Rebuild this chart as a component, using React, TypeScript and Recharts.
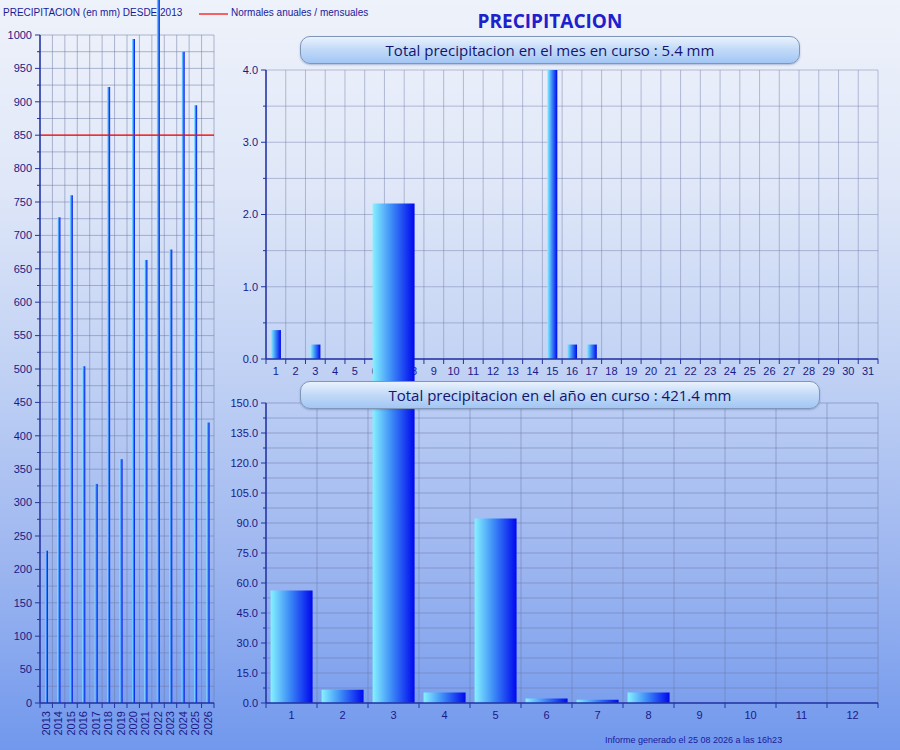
import { Bar, BarChart, CartesianGrid, ReferenceLine, XAxis, YAxis } from "recharts";

const YEARS = ["2013", "2014", "2015", "2016", "2017", "2018", "2019", "2020", "2021", "2022", "2023", "2024", "2025", "2026"];
const YEAR_TOTALS = [228, 727, 760, 504, 328, 922, 365, 994, 663, 1080, 679, 975, 895, 420];
const NORMAL_ANNUAL = 850;
const YEAR_TICKS = Array.from({ length: 41 }, (_, i) => i * 25);

const DAYS = ["1", "2", "3", "4", "5", "6", "7", "8", "9", "10", "11", "12", "13", "14", "15", "16",
  "17", "18", "19", "20", "21", "22", "23", "24", "25", "26", "27", "28", "29", "30", "31"];
const DAY_RAIN = [0.4, 0, 0.2, 0, 0, 0, 0, 0, 0, 0, 0, 0, 0, 0, 4.4, 0.2, 0.2, 0, 0, 0, 0, 0, 0, 0, 0, 0, 0, 0, 0, 0, 0];
const DAY_TICKS = [0, 0.5, 1, 1.5, 2, 2.5, 3, 3.5, 4];

const MONTHS = ["1", "2", "3", "4", "5", "6", "7", "8", "9", "10", "11", "12"];
const MONTH_RAIN = [56.3, 6.6, 249.8, 5.2, 92.3, 2.2, 1.6, 5.3, 0, 0, 0, 0];
const MONTH_TICKS = Array.from({ length: 21 }, (_, i) => i * 7.5);

const SANS = '"Liberation Sans", Arial, sans-serif';
const TITLE_FONT = '"Comic Sans MS", "Open Sans", sans-serif';
const AXIS = "#2233a6";
const LABEL = "#1a1a86";
const GRID = "#6e7aa6";

const yearData = YEARS.map((year, i) => ({ year, mm: YEAR_TOTALS[i] }));
const dayData = DAYS.map((day, i) => ({ day, mm: DAY_RAIN[i] }));
const monthData = MONTHS.map((month, i) => ({ month, mm: MONTH_RAIN[i] }));

// vertical grid lines on the category boundaries instead of the centres
const boundaries = (n: number) => ({ offset }: any) =>
  Array.from({ length: n + 1 }, (_, i) => offset.left + (i * offset.width) / n);

// y tick: long mark + label on multiples of `step`, short mark otherwise
function YTick(props: any) {
  const { x, y, payload, step, digits } = props;
  const axisX = x + 8;
  const v = payload.value as number;
  const major = Math.abs(v / step - Math.round(v / step)) < 1e-6;
  return (
    <g>
      <line x1={axisX - (major ? 5 : 3)} x2={axisX} y1={y} y2={y} stroke={AXIS} />
      {major && (
        <text x={x} y={y} dy="0.35em" textAnchor="end" fill={LABEL} fontSize={11} fontFamily={SANS}>
          {v.toFixed(digits)}
        </text>
      )}
    </g>
  );
}

// x tick: marks at category boundaries, label at the centre
function XTick(props: any) {
  const { x, y, payload, index, visibleTicksCount, width, rotate } = props;
  const axisY = y - 8;
  const half = payload.offset || width / visibleTicksCount / 2;
  const last = index === visibleTicksCount - 1;
  return (
    <g>
      <line x1={x - half} x2={x - half} y1={axisY} y2={axisY + 5} stroke={AXIS} />
      {last && <line x1={x + half} x2={x + half} y1={axisY} y2={axisY + 5} stroke={AXIS} />}
      {rotate ? (
        <text x={x} y={y} dy="0.35em" textAnchor="end" transform={`rotate(-90 ${x} ${y})`}
          fill={LABEL} fontSize={11} fontFamily={SANS}>
          {payload.value}
        </text>
      ) : (
        <text x={x} y={y} dy="0.75em" textAnchor="middle" fill={LABEL} fontSize={11} fontFamily={SANS}>
          {payload.value}
        </text>
      )}
    </g>
  );
}

function Gradient({ id }: { id: string }) {
  return (
    <defs>
      <linearGradient id={id} x1="0" y1="0" x2="1" y2="0">
        <stop offset="0%" stopColor="#86f2ff" />
        <stop offset="45%" stopColor="#3d8cf7" />
        <stop offset="100%" stopColor="#0008ee" />
      </linearGradient>
    </defs>
  );
}

function YearChart() {
  return (
    <BarChart width={220} height={750} data={yearData} margin={{ top: 35, right: 6, bottom: 0, left: 0 }}>
      <Gradient id="gYear" />
      <CartesianGrid stroke={GRID} strokeOpacity={0.5} verticalCoordinatesGenerator={boundaries(YEARS.length)} />
      <XAxis dataKey="year" height={47} interval={0} tickLine={false} tickSize={6} tickMargin={2}
        axisLine={{ stroke: AXIS, strokeWidth: 1.5 }} tick={(p: any) => <XTick {...p} rotate />} />
      <YAxis width={40} domain={[0, 1000]} ticks={YEAR_TICKS} interval={0} allowDataOverflow tickLine={false}
        axisLine={{ stroke: AXIS, strokeWidth: 1.5 }} tick={(p: any) => <YTick {...p} step={50} digits={0} />} />
      <ReferenceLine y={NORMAL_ANNUAL} stroke="#ff0000" strokeWidth={1.2} />
      <Bar dataKey="mm" fill="url(#gYear)" barSize={3} isAnimationActive={false} />
    </BarChart>
  );
}

function DayChart() {
  return (
    <BarChart width={680} height={350} data={dayData} barCategoryGap="25%"
      margin={{ top: 30, right: 22, bottom: 6, left: 0 }}>
      <Gradient id="gDay" />
      <CartesianGrid stroke={GRID} strokeOpacity={0.45} verticalCoordinatesGenerator={boundaries(DAYS.length)} />
      <XAxis dataKey="day" height={25} interval={0} tickLine={false} tickSize={6} tickMargin={2}
        axisLine={{ stroke: AXIS, strokeWidth: 1.5 }} tick={(p: any) => <XTick {...p} />} />
      <YAxis width={46} domain={[0, 4]} ticks={DAY_TICKS} interval={0} allowDataOverflow tickLine={false}
        axisLine={{ stroke: AXIS, strokeWidth: 1.5 }} tick={(p: any) => <YTick {...p} step={1} digits={1} />} />
      <Bar dataKey="mm" fill="url(#gDay)" isAnimationActive={false} />
    </BarChart>
  );
}

function MonthChart() {
  return (
    <BarChart width={680} height={370} data={monthData} barCategoryGap="9%"
      margin={{ top: 23, right: 22, bottom: 17, left: 0 }}>
      <Gradient id="gMonth" />
      <CartesianGrid stroke={GRID} strokeOpacity={0.5} verticalCoordinatesGenerator={boundaries(MONTHS.length)} />
      <XAxis dataKey="month" height={30} interval={0} tickLine={false} tickSize={6} tickMargin={2}
        axisLine={{ stroke: AXIS, strokeWidth: 1.5 }} tick={(p: any) => <XTick {...p} />} />
      <YAxis width={46} domain={[0, 150]} ticks={MONTH_TICKS} interval={0} allowDataOverflow tickLine={false}
        axisLine={{ stroke: AXIS, strokeWidth: 1.5 }} tick={(p: any) => <YTick {...p} step={15} digits={1} />} />
      <Bar dataKey="mm" fill="url(#gMonth)" isAnimationActive={false} />
    </BarChart>
  );
}

function TitleBox({ left, top, width, text }: { left: number; top: number; width: number; text: string }) {
  return (
    <div style={{
      position: "absolute", left, top, width, height: 28, zIndex: 3, boxSizing: "border-box",
      borderRadius: 10, border: "1px solid #8096b8",
      background: "linear-gradient(to bottom, #eaf2fd 0%, #c4dbf8 45%, #a3c6f4 100%)",
      boxShadow: "0 1px 2px rgba(60,80,140,0.35)",
      display: "flex", alignItems: "center", justifyContent: "center",
      fontFamily: TITLE_FONT, fontSize: 15, color: "#14146e",
    }}>
      {text}
    </div>
  );
}

export default function App() {
  return (
    <div style={{
      position: "relative", width: 900, height: 750, overflow: "hidden", fontFamily: SANS,
      background: "linear-gradient(to bottom, #eef2fa 0%, #dfe7f8 25%, #c0d1f4 50%, #9db6f0 75%, #7198ed 100%)",
    }}>
      <style>{`body{margin:0} .noclip [clip-path]{clip-path:none !important} .noclip svg{overflow:visible}`}</style>
      <div style={{ position: "absolute", left: 3, top: 7, fontSize: 10, color: "#1a1a9a", whiteSpace: "nowrap" }}>
        PRECIPITACION (en mm) DESDE 2013
      </div>
      <svg width={30} height={4} style={{ position: "absolute", left: 199, top: 12, zIndex: 5 }}>
        <line x1={0} x2={29} y1={2} y2={2} stroke="#ff0000" strokeWidth={1.2} />
      </svg>
      <div style={{ position: "absolute", left: 231, top: 7, fontSize: 10, color: "#1a1a9a", whiteSpace: "nowrap" }}>
        Normales anuales / mensuales
      </div>
      <div style={{
        position: "absolute", left: 440, top: 8, width: 220, textAlign: "center", fontFamily: TITLE_FONT,
        fontWeight: "bold", fontSize: 19, color: "#2020cc",
      }}>
        PRECIPITACION
      </div>
      <div style={{ position: "absolute", left: 220, top: 40, zIndex: 1 }}>
        <DayChart />
      </div>
      <div className="noclip" style={{ position: "absolute", left: 220, top: 380, zIndex: 2 }}>
        <MonthChart />
      </div>
      <div className="noclip" style={{ position: "absolute", left: 0, top: 0, zIndex: 2 }}>
        <YearChart />
      </div>
      <TitleBox left={300} top={36} width={500} text="Total precipitacion en el mes en curso : 5.4 mm" />
      <TitleBox left={300} top={381} width={520} text="Total precipitacion en el año en curso : 421.4 mm" />
      <div style={{ position: "absolute", left: 605, top: 735, fontSize: 9, color: "#1a1a9a", whiteSpace: "nowrap" }}>
        Informe generado el 25 08 2026 a las 16h23
      </div>
    </div>
  );
}
